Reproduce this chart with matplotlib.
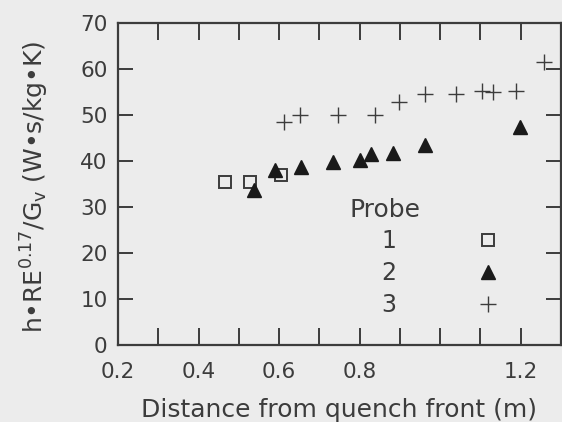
import numpy as np
import matplotlib
matplotlib.use("Agg")
import matplotlib.pyplot as plt

plt.rcParams['font.family'] = ['DejaVu Sans']
plt.rcParams['mathtext.default'] = 'regular'

# data
probe1_x = [0.465, 0.527, 0.606]
probe1_y = [35.4, 35.4, 37.0]

probe2_x = [0.537, 0.589, 0.655, 0.735, 0.801, 0.829, 0.883, 0.962, 1.198]
probe2_y = [33.8, 38.0, 38.8, 39.8, 40.2, 41.5, 41.8, 43.4, 47.3]

probe3_x = [0.613, 0.653, 0.746, 0.839, 0.899, 0.963, 1.040, 1.104, 1.132, 1.188, 1.257]
probe3_y = [48.4, 50.0, 50.1, 50.1, 52.8, 54.5, 54.5, 55.2, 55.0, 55.3, 61.5]

xticks = np.round(np.arange(0.2, 1.31, 0.1), 1)
xticklabels = ['0.2', '', '0.4', '', '0.6', '', '0.8', '', '', '', '1.2', '']
yticks = [0, 10, 20, 30, 40, 50, 60, 70]

ink = '#3c3c3c'
bg = '#ececec'

fig = plt.figure(figsize=(5.62, 4.22), dpi=100, facecolor=bg)
ax = fig.add_axes([0.21, 0.1825, 0.788, 0.763], facecolor=bg)

ax.plot(probe1_x, probe1_y, ls='none', marker='s', ms=8.5, mfc='none', mec=ink, mew=1.4, label='1')
ax.plot(probe2_x, probe2_y, ls='none', marker='^', ms=9.5, mfc='#1a1a1a', mec='#1a1a1a', label='2')
ax.plot(probe3_x, probe3_y, ls='none', marker='+', ms=11, mec=ink, mew=1.0, label='3')

ax.set_xlim(0.2, 1.3)
ax.set_ylim(0, 70)
ax.set_xticks(xticks)
ax.set_xticklabels(xticklabels)
ax.set_yticks(yticks)

for s in ax.spines.values():
    s.set_color(ink)
    s.set_linewidth(1.6)

ax.tick_params(axis='x', direction='in', length=12, width=1.4, color=ink,
               top=True, labelsize=15.5, labelcolor=ink, pad=12)
ax.tick_params(axis='y', direction='in', length=11, width=1.4, color=ink,
               right=True, labelsize=15.5, labelcolor=ink, pad=7.5)

ax.set_xlabel('Distance from quench front (m)', fontsize=18, color=ink, labelpad=12)
ax.set_ylabel('h•RE$^{0.17}$/G$_v$ (W•s/kg•K)', fontsize=18, color=ink)
ax.yaxis.set_label_coords(-0.152, 0.49)

ax.text(0.603, 0.419, 'Probe', transform=ax.transAxes, fontsize=18, color=ink,
        ha='center', va='center')
leg = ax.legend(loc='upper left', bbox_to_anchor=(0.594, 0.36), frameon=False,
                markerfirst=False, fontsize=17, handlelength=1.0, handletextpad=3.4,
                labelspacing=0.34, borderpad=0, borderaxespad=0, labelcolor=ink)

fig.savefig('out.png', dpi=100, facecolor=bg)
